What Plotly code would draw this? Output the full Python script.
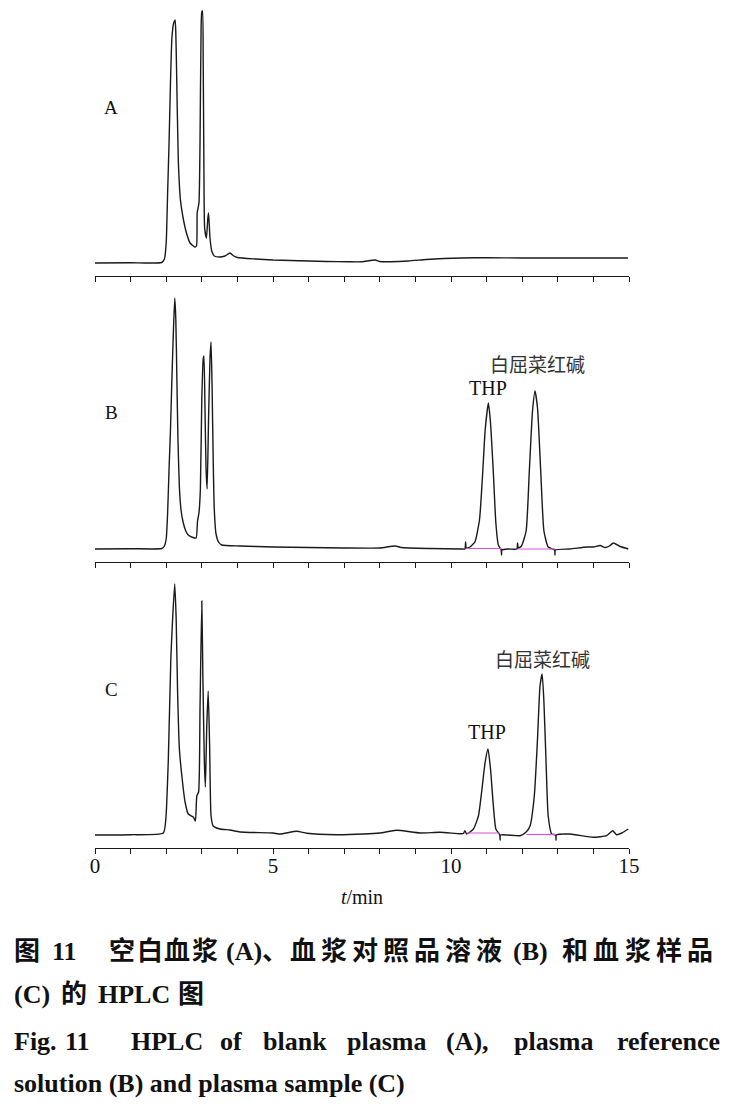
import plotly.graph_objects as go

# ---------------- data (retention time in min, detector signal in arbitrary units) ----------------
# Panel A: blank plasma
tA = [0.0, 1.0, 1.87, 1.95, 2.00, 2.04, 2.08, 2.12, 2.16, 2.21, 2.25, 2.27, 2.29, 2.34, 2.40, 2.47, 2.57, 2.67,
      2.80, 2.85, 2.87, 2.92, 2.95, 2.98, 3.00, 3.02, 3.04, 3.06, 3.08, 3.13, 3.17, 3.19, 3.23, 3.28, 3.35, 3.50,
      3.65, 3.79, 3.90, 4.00, 4.50, 5.00, 5.50, 6.00, 6.50, 7.10, 7.50, 7.87, 8.00, 8.30, 8.80, 9.30, 9.80, 10.30,
      11.00, 12.00, 13.00, 14.00, 14.97]
sA = [0, 0.3, 0.5, 4, 20, 70, 120, 180, 225, 240, 243, 230, 196, 103, 63, 46, 30, 20,
      16, 17, 50, 60, 120, 235, 251, 252, 200, 90, 35, 25, 45, 50, 25, 12, 7, 6,
      7, 10, 7, 5.5, 4, 3, 2.5, 2, 1.5, 1.2, 1.2, 3, 1.5, 1.3, 2, 3.5, 4.5, 5,
      5.3, 5, 5, 5, 5]

# Panel B: plasma reference solution
tB = [0.0, 1.0, 1.88, 1.95, 2.00, 2.04, 2.08, 2.12, 2.16, 2.20, 2.24, 2.27, 2.30, 2.33, 2.37, 2.42, 2.48, 2.55,
      2.62, 2.75, 2.84, 2.88, 2.92, 2.96, 3.00, 3.04, 3.06, 3.09, 3.12, 3.15, 3.19, 3.23, 3.26, 3.29, 3.32, 3.35,
      3.40, 3.47, 3.56, 4.07, 5.0, 6.0, 7.0, 8.0, 8.43, 8.6, 9.4, 10.3, 10.39, 10.41, 10.43, 10.53, 10.67, 10.80,
      10.89, 10.96, 11.05, 11.11, 11.19, 11.26, 11.33, 11.41, 11.42, 11.43, 11.60, 11.85, 11.87, 11.89, 11.98,
      12.11, 12.20, 12.29, 12.36, 12.43, 12.52, 12.61, 12.73, 12.91, 12.92, 12.93, 13.34, 13.81, 14.00, 14.19,
      14.33, 14.45, 14.56, 14.75, 14.98]
sB = [0, 0.3, 0.5, 3, 10, 36, 80, 119, 170, 215, 251, 230, 170, 110, 62, 38, 26, 18,
      14, 11.5, 11, 28, 36, 60, 150, 190, 193, 140, 80, 60, 130, 190, 207, 160, 90, 40,
      15, 7, 4, 3, 2, 1.5, 1, 1, 3, 1.5, 0.5, 0, 0, 7, 1, 2, 7, 29,
      76, 119, 146, 126, 76, 26, 4, -1, -6, -1, 0, 0, 6, 1, 3,
      18, 78, 138, 158, 141, 78, 18, 2, -1, -6, -1, 0, 2, 2, 3.5,
      1.5, 3, 6, 2.5, 0]

# Panel C: plasma sample
tC = [0.0, 1.0, 1.92, 1.99, 2.06, 2.13, 2.18, 2.24, 2.28, 2.32, 2.37, 2.44, 2.53, 2.62, 2.76, 2.82, 2.86, 2.91,
      2.95, 3.00, 3.03, 3.07, 3.10, 3.14, 3.18, 3.22, 3.26, 3.32, 3.51, 3.79, 4.07, 5.00, 5.20, 5.67, 5.95, 6.79,
      7.54, 8.00, 8.47, 9.13, 9.69, 10.25, 10.35, 10.39, 10.44, 10.63, 10.77, 10.86, 10.96, 11.04, 11.11, 11.19,
      11.26, 11.37, 11.38, 11.39, 11.94, 12.11, 12.22, 12.34, 12.43, 12.50, 12.56, 12.61, 12.67, 12.73, 12.83,
      12.94, 12.95, 12.96, 13.34, 14.00, 14.37, 14.54, 14.65, 14.80, 14.98]
sC = [0, 0.3, 2, 16, 76, 176, 216, 251, 216, 143, 86, 59, 33, 21, 18, 14, 39, 43,
      126, 234, 159, 76, 48, 109, 144, 89, 19, 9, 6, 5, 3, 2, 1, 3.7, 1.7, 0.3,
      1, 2, 4.7, 2, 2.7, 1.3, 1.5, 4.3, 1, 6, 19, 43, 73, 86, 66, 29,
      6, 0, -5, 0, -0.7, 3, 9, 39, 96, 149, 161, 133, 73, 19, 1,
      0, -5, 0, 1, -2.3, -0.7, 4.3, 0.3, 2, 6]

# integration baselines (start min, end min, level)
intB_start = [10.43, 11.88]
intB_end = [11.42, 12.92]
intB_level = [0.5, 0.0]
intC_start = [10.44, 12.12]
intC_end = [11.38, 12.95]
intC_level = [2.0, 0.5]

panel_labels = ["A", "B", "C"]
peak_names = ["THP", "白屈菜红碱"]
xtick_vals = list(range(16))
xtick_text = ["0", "", "", "", "", "5", "", "", "", "", "10", "", "", "", "", "15"]

# ---------------- figure geometry (page pixels; the page body adds an 8 px offset) ----------------
OFF = 8
W, H = 736 - OFF, 1108 - OFF
PLOT_L, PLOT_R, PLOT_T, PLOT_B = 95, 629, 10, 848      # page coords of plot area
ML = PLOT_L - OFF
MR = W - (PLOT_R - OFF)
MT = PLOT_T - OFF
MB = H - (PLOT_B - OFF)
PW, PH = W - ML - MR, H - MT - MB


def px(xp):
    return (xp - PLOT_L) / PW


def py(yp):
    return (PLOT_B - yp) / PH


LINE = "#1a1a1a"
MAG = "#e050e0"
SERIF = "Liberation Serif, Times New Roman, serif"
CJK = "Noto Sans CJK SC, sans-serif"
CAPF = "Liberation Serif, Noto Sans CJK SC, serif"

fig = go.Figure()

# axis ids: A -> x3/y3, B -> x2/y2, C -> x/y
series = [(tA, sA, "x3", "y3"), (tB, sB, "x2", "y2"), (tC, sC, "x", "y")]
for t, s, xa, ya in series:
    fig.add_trace(go.Scatter(x=t, y=s, mode="lines", xaxis=xa, yaxis=ya,
                             line=dict(color=LINE, width=1.4, shape="spline", smoothing=0.5),
                             showlegend=False, hoverinfo="skip", cliponaxis=False))

for starts, ends, levels, xa, ya in [(intB_start, intB_end, intB_level, "x2", "y2"),
                                     (intC_start, intC_end, intC_level, "x", "y")]:
    for a, b, lv in zip(starts, ends, levels):
        fig.add_trace(go.Scatter(x=[a, b], y=[lv, lv], mode="lines", xaxis=xa, yaxis=ya,
                                 line=dict(color=MAG, width=1.2), showlegend=False, hoverinfo="skip"))

panel_h = 266
doms = {
    "y3": [py(10 + panel_h), py(10)],
    "y2": [py(296 + panel_h), py(296)],
    "y": [py(582 + panel_h), py(582)],
}
yr = [-13, 253]

xbase = dict(range=[0, 15], showline=True, linecolor=LINE, linewidth=1.2, ticks="outside", ticklen=5,
             tickwidth=1, tickcolor=LINE, tickvals=xtick_vals, ticktext=xtick_text, showgrid=False,
             zeroline=False, fixedrange=True)
fig.update_layout(
    width=W, height=H,
    margin=dict(l=ML, r=MR, t=MT, b=MB),
    paper_bgcolor="white", plot_bgcolor="white",
    xaxis=dict(xbase, anchor="y", showticklabels=True, ticklabelstandoff=-6,
               tickfont=dict(family=SERIF, size=21, color="#111"),
               title=dict(text="<i>t</i>/min", font=dict(family=SERIF, size=20, color="#111"), standoff=12)),
    xaxis2=dict(xbase, anchor="y2", showticklabels=False),
    xaxis3=dict(xbase, anchor="y3", showticklabels=False),
    yaxis=dict(domain=doms["y"], range=yr, visible=False, fixedrange=True),
    yaxis2=dict(domain=doms["y2"], range=yr, visible=False, fixedrange=True),
    yaxis3=dict(domain=doms["y3"], range=yr, visible=False, fixedrange=True),
)

ann = []
# panel letters
for lab, xr, yrf, yv in zip(panel_labels, ["x3", "x2", "x"], ["y3", "y2", "y"], [156, 137, 146]):
    ann.append(dict(text=lab, x=0.45, y=yv, xref=xr, yref=yrf, showarrow=False,
                    font=dict(family=SERIF, size=19, color="#111")))
# peak labels
ann += [
    dict(text=peak_names[0], x=11.04, y=161, xref="x2", yref="y2", showarrow=False,
         font=dict(family=SERIF, size=20, color="#111")),
    dict(text=peak_names[1], x=12.42, y=186, xref="x2", yref="y2", showarrow=False,
         font=dict(family=CJK, size=19, color="#333")),
    dict(text=peak_names[0], x=11.0, y=103, xref="x", yref="y", showarrow=False,
         font=dict(family=SERIF, size=20, color="#111")),
    dict(text=peak_names[1], x=12.58, y=177, xref="x", yref="y", showarrow=False,
         font=dict(family=CJK, size=19, color="#333")),
]

# ---------------- captions ----------------
capfont = dict(family=CAPF, size=26, color="#111")


def cap(text, xl, yc):
    ann.append(dict(text="<b>%s</b>" % text, x=px(xl), y=py(yc), xref="paper", yref="paper",
                    xanchor="left", yanchor="middle", showarrow=False, font=capfont))


def cap_spread(text, x0, x1, yc):
    n = len(text)
    w = (x1 - x0) / n
    for i, ch in enumerate(text):
        ann.append(dict(text="<b>%s</b>" % ch, x=px(x0 + (i + 0.5) * w), y=py(yc), xref="paper",
                        yref="paper", xanchor="center", yanchor="middle", showarrow=False, font=capfont))


y1, y2, y3, y4 = 951, 995, 1041, 1083
cap("图", 12, y1)
cap("11", 50, y1)
cap_spread("空白血浆", 108, 219, y1)
cap("(A)、", 224, y1)
cap_spread("血浆对照品溶液", 287, 505, y1)
cap("(B)", 511, y1)
cap_spread("和血浆样品", 559, 716, y1)

cap("(C)", 12, y2)
cap("的", 59, y2)
cap("HPLC", 96, y2)
cap("图", 176, y2)

for word, xl in [("Fig.", 12), ("11", 63), ("HPLC", 129), ("of", 218), ("blank", 261), ("plasma", 345),
                 ("(A),", 444), ("plasma", 512), ("reference", 615)]:
    cap(word, xl, y3)

cap("solution (B) and plasma sample (C)", 12, y4)

fig.update_layout(annotations=ann)
fig.write_html("out.html")
